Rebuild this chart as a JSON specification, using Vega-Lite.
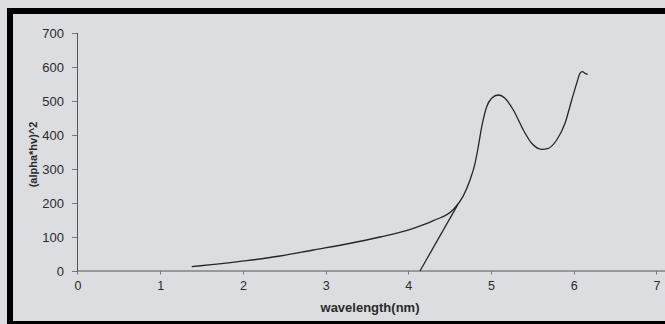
{
  "$schema": "https://vega.github.io/schema/vega-lite/v6.json",
  "width": 700,
  "height": 313,
  "autosize": {"type": "none"},
  "padding": {"left": 10, "top": 11, "right": 0, "bottom": 0},
  "background": "#dcdde1",
  "config": {
    "view": {"stroke": "#000000", "strokeWidth": 6},
    "font": "Liberation Sans"
  },
  "encoding": {
    "x": {
      "field": "x",
      "type": "quantitative",
      "scale": {"domain": [-0.8162, 7.6481], "nice": false, "zero": false},
      "axis": {
        "values": [0, 1, 2, 3, 4, 5, 6, 7],
        "domain": false,
        "grid": false,
        "offset": -53,
        "tickSize": 3,
        "tickColor": "#777777",
        "labelPadding": 5,
        "labelFontSize": 12.5,
        "labelColor": "#2b2b2b",
        "title": "wavelength(nm)",
        "titleFontSize": 13,
        "titleFontWeight": "bold",
        "titleColor": "#2b2b2b",
        "titleX": 359.5,
        "titleY": 36,
        "titleBaseline": "middle",
        "titleAlign": "center"
      }
    },
    "y": {
      "field": "y",
      "type": "quantitative",
      "scale": {"domain": [-155.88, 764.71], "nice": false, "zero": false},
      "axis": {
        "values": [0, 100, 200, 300, 400, 500, 600, 700],
        "domain": false,
        "grid": false,
        "offset": -67.5,
        "tickSize": 6,
        "tickColor": "#777777",
        "labelPadding": 8,
        "labelFontSize": 13,
        "labelColor": "#2b2b2b",
        "title": "(alpha*hv)^2",
        "titleFontSize": 11,
        "titleFontWeight": "bold",
        "titleColor": "#2b2b2b",
        "titleX": -44.5,
        "titleY": 143,
        "titleAngle": -90,
        "titleAlign": "center",
        "titleBaseline": "middle"
      }
    }
  },
  "layer": [
    {
      "data": {
        "values": [
          {"axis": "x", "x": 0, "x2": 7.15, "y": 0, "y2": 0},
          {"axis": "y", "x": 0, "x2": 0, "y": 0, "y2": 700}
        ]
      },
      "mark": {"type": "rule", "color": "#555555", "strokeWidth": 1},
      "encoding": {
        "x2": {"field": "x2"},
        "y2": {"field": "y2"},
        "detail": {"field": "axis"}
      }
    },
    {
      "data": {
        "values": [
          {"series": "curve", "x": 1.381, "y": 12.6},
          {"series": "curve", "x": 2.046, "y": 30.3},
          {"series": "curve", "x": 2.449, "y": 44.1},
          {"series": "curve", "x": 2.851, "y": 61.8},
          {"series": "curve", "x": 3.255, "y": 79.4},
          {"series": "curve", "x": 3.658, "y": 100},
          {"series": "curve", "x": 4.06, "y": 125.6},
          {"series": "curve", "x": 4.302, "y": 148},
          {"series": "curve", "x": 4.544, "y": 181},
          {"series": "curve", "x": 4.665, "y": 221},
          {"series": "curve", "x": 4.746, "y": 267.6},
          {"series": "curve", "x": 4.807, "y": 316.8},
          {"series": "curve", "x": 4.846, "y": 365.6},
          {"series": "curve", "x": 4.888, "y": 424.4},
          {"series": "curve", "x": 4.948, "y": 483.2},
          {"series": "curve", "x": 5.008, "y": 507.9},
          {"series": "curve", "x": 5.088, "y": 517.6},
          {"series": "curve", "x": 5.169, "y": 507.9},
          {"series": "curve", "x": 5.27, "y": 473.5},
          {"series": "curve", "x": 5.391, "y": 414.7},
          {"series": "curve", "x": 5.492, "y": 375.6},
          {"series": "curve", "x": 5.613, "y": 357.9},
          {"series": "curve", "x": 5.693, "y": 360.9},
          {"series": "curve", "x": 5.794, "y": 385.3},
          {"series": "curve", "x": 5.895, "y": 434.4},
          {"series": "curve", "x": 5.976, "y": 502.9},
          {"series": "curve", "x": 6.036, "y": 552},
          {"series": "curve", "x": 6.076, "y": 581.5},
          {"series": "curve", "x": 6.104, "y": 586.2},
          {"series": "curve", "x": 6.137, "y": 581.5},
          {"series": "curve", "x": 6.169, "y": 578.5},
          {"series": "tangent", "x": 4.141, "y": 0},
          {"series": "tangent", "x": 4.6, "y": 196}
        ]
      },
      "mark": {"type": "line", "color": "#262626", "strokeWidth": 1.3, "interpolate": "monotone"},
      "encoding": {
        "detail": {"field": "series"},
        "order": {"field": "x", "type": "quantitative"}
      }
    }
  ]
}
